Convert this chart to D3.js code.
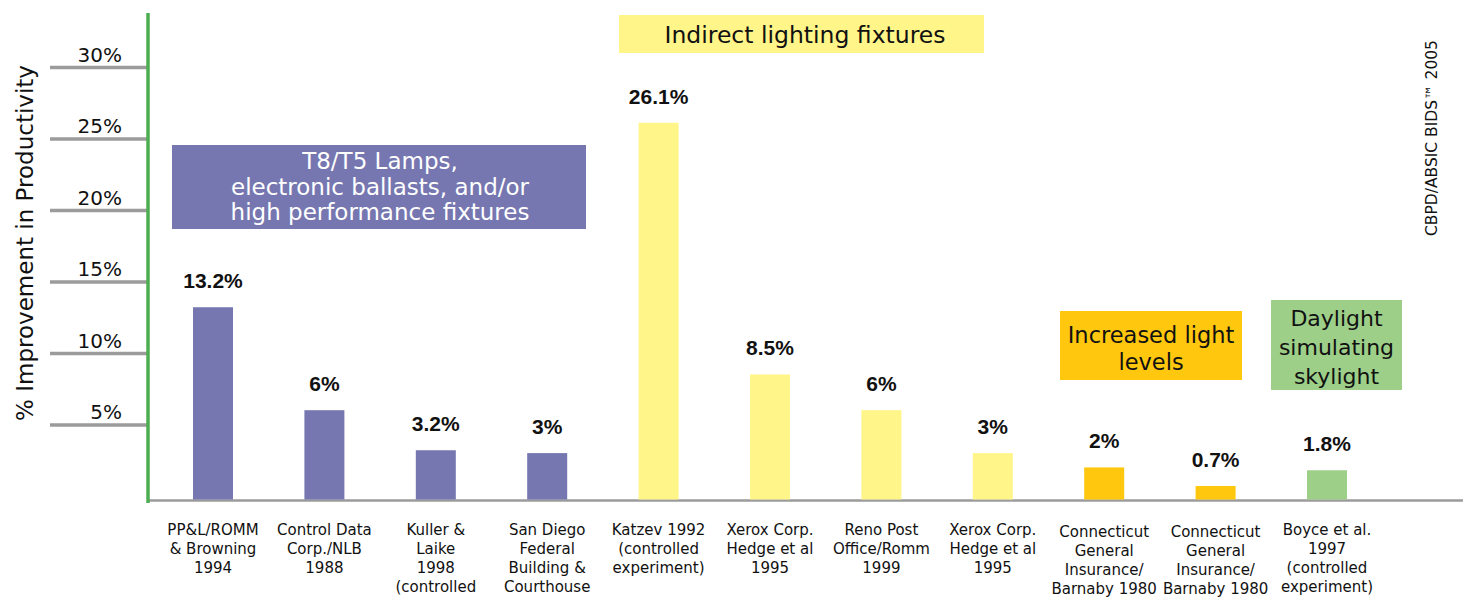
<!DOCTYPE html>
<html>
<head>
<meta charset="utf-8">
<script src="https://cdn.jsdelivr.net/npm/d3@7"></script>
<style>
  html, body { margin: 0; padding: 0; background: #ffffff; }
  svg { display: block; }
</style>
</head>
<body>
<svg id="chart" width="1463" height="601"></svg>
<script>
// ---- data ----
const categories = [
  "PP&L/ROMM\n& Browning\n1994",
  "Control Data\nCorp./NLB\n1988",
  "Kuller &\nLaike\n1998\n(controlled",
  "San Diego\nFederal\nBuilding &\nCourthouse",
  "Katzev 1992\n(controlled\nexperiment)",
  "Xerox Corp.\nHedge et al\n1995",
  "Reno Post\nOffice/Romm\n1999",
  "Xerox Corp.\nHedge et al\n1995",
  "Connecticut\nGeneral\nInsurance/\nBarnaby 1980",
  "Connecticut\nGeneral\nInsurance/\nBarnaby 1980",
  "Boyce et al.\n1997\n(controlled\nexperiment)"
];
const values = [13.2, 6, 3.2, 3, 26.1, 8.5, 6, 3, 2, 0.7, 1.8];
const valueLabels = ["13.2%", "6%", "3.2%", "3%", "26.1%", "8.5%", "6%", "3%", "2%", "0.7%", "1.8%"];
const groups = ["lamps", "lamps", "lamps", "lamps", "indirect", "indirect", "indirect", "indirect", "light", "light", "daylight"];
const groupNames = ["lamps", "indirect", "light", "daylight"];
const groupColors = ["#7677b0", "#fff589", "#ffc80f", "#9dcf89"];
const tickValues = [5, 10, 15, 20, 25, 30];
const tickLabels = ["5%", "10%", "15%", "20%", "25%", "30%"];

// ---- setup ----
const svg = d3.select("#chart");
const font = "'DejaVu Sans', Verdana, sans-serif";

const y = d3.scaleLinear().domain([0, 30]).range([496, 67]);
const x = d3.scalePoint().domain(d3.range(categories.length)).range([213, 1327]);
const color = d3.scaleOrdinal().domain(groupNames).range(groupColors);
const barW = 40;
const baseY = y(0) + 4.5;

// ---- y axis ticks ----
const axis = d3.axisLeft(y).tickValues(tickValues)
  .tickFormat((d, i) => tickLabels[i]).tickSize(97).tickPadding(0);
const gAxis = svg.append("g").attr("transform", "translate(147,0)").call(axis);
gAxis.select(".domain").remove();
gAxis.selectAll(".tick line").attr("stroke", "#9b9b9b").attr("stroke-width", 3.5);
gAxis.selectAll(".tick text")
  .attr("x", -25).attr("dy", -6).attr("text-anchor", "end")
  .attr("font-family", font).attr("font-size", 20).attr("fill", "#111");

// ---- baseline & green axis ----
svg.append("line").attr("x1", 148).attr("x2", 1463).attr("y1", baseY).attr("y2", baseY)
  .attr("stroke", "#9b9b9b").attr("stroke-width", 2.5);
svg.append("line").attr("x1", 148).attr("x2", 148).attr("y1", 13).attr("y2", 503)
  .attr("stroke", "#4cae50").attr("stroke-width", 3.5);

// ---- bars ----
svg.append("g").selectAll("rect").data(values).join("rect")
  .attr("x", (d, i) => x(i) - barW / 2)
  .attr("y", d => y(d))
  .attr("width", barW)
  .attr("height", d => baseY - 1 - y(d))
  .attr("fill", (d, i) => color(groups[i]));

// ---- value labels ----
svg.append("g").selectAll("text").data(values).join("text")
  .attr("x", (d, i) => x(i))
  .attr("y", d => y(d) - 19)
  .attr("text-anchor", "middle")
  .attr("font-family", "'Liberation Sans', Arial, sans-serif")
  .attr("font-weight", "bold").attr("font-size", 21).attr("fill", "#111")
  .text((d, i) => valueLabels[i]);

// ---- category labels ----
const catG = svg.append("g").selectAll("text").data(categories).join("text")
  .attr("x", (d, i) => x(i))
  .attr("y", (d, i) => groups[i] === "light" ? 537 : 535)
  .attr("text-anchor", "middle")
  .attr("font-family", font).attr("font-size", 15).attr("fill", "#111");
catG.each(function(d, i) {
  const t = d3.select(this);
  d.split("\n").forEach((line, j) => {
    t.append("tspan").attr("x", x(i)).attr("dy", j === 0 ? 0 : 19).text(line);
  });
});

// ---- annotation boxes ----
function box(x0, y0, w, h, fill, lines, textColor, fs, firstBase, lh, cx) {
  svg.append("rect").attr("x", x0).attr("y", y0).attr("width", w).attr("height", h).attr("fill", fill);
  const t = svg.append("text").attr("text-anchor", "middle")
    .attr("font-family", font).attr("font-size", fs).attr("fill", textColor);
  lines.forEach((l, j) => t.append("tspan").attr("x", cx == null ? x0 + w / 2 : cx)
    .attr("y", firstBase + j * lh).text(l));
}
box(172, 145, 414, 84, "#7677b0", ["T8/T5 Lamps,", "electronic ballasts, and/or", "high performance fixtures"], "#ffffff", 23, 169, 25.5, 380);
box(619, 15, 365, 38, "#fff589", ["Indirect lighting fixtures"], "#111", 23.5, 43, 0, 805);
box(1060, 311, 182, 69, "#ffc80f", ["Increased light", "levels"], "#111", 22.5, 343, 27);
box(1271, 300, 131, 90, "#9dcf89", ["Daylight", "simulating", "skylight"], "#111", 22, 326, 29);

// ---- axis title ----
svg.append("text")
  .attr("transform", "translate(33,243) rotate(-90)")
  .attr("text-anchor", "middle")
  .attr("font-family", font).attr("font-size", 23).attr("fill", "#111")
  .text("% Improvement in Productivity");

// ---- source note ----
svg.append("text")
  .attr("transform", "translate(1437,138) rotate(-90)")
  .attr("text-anchor", "middle")
  .attr("font-family", font).attr("font-size", 15.5).attr("fill", "#111")
  .text("CBPD/ABSIC BIDS\u2122 2005");
</script>
</body>
</html>
